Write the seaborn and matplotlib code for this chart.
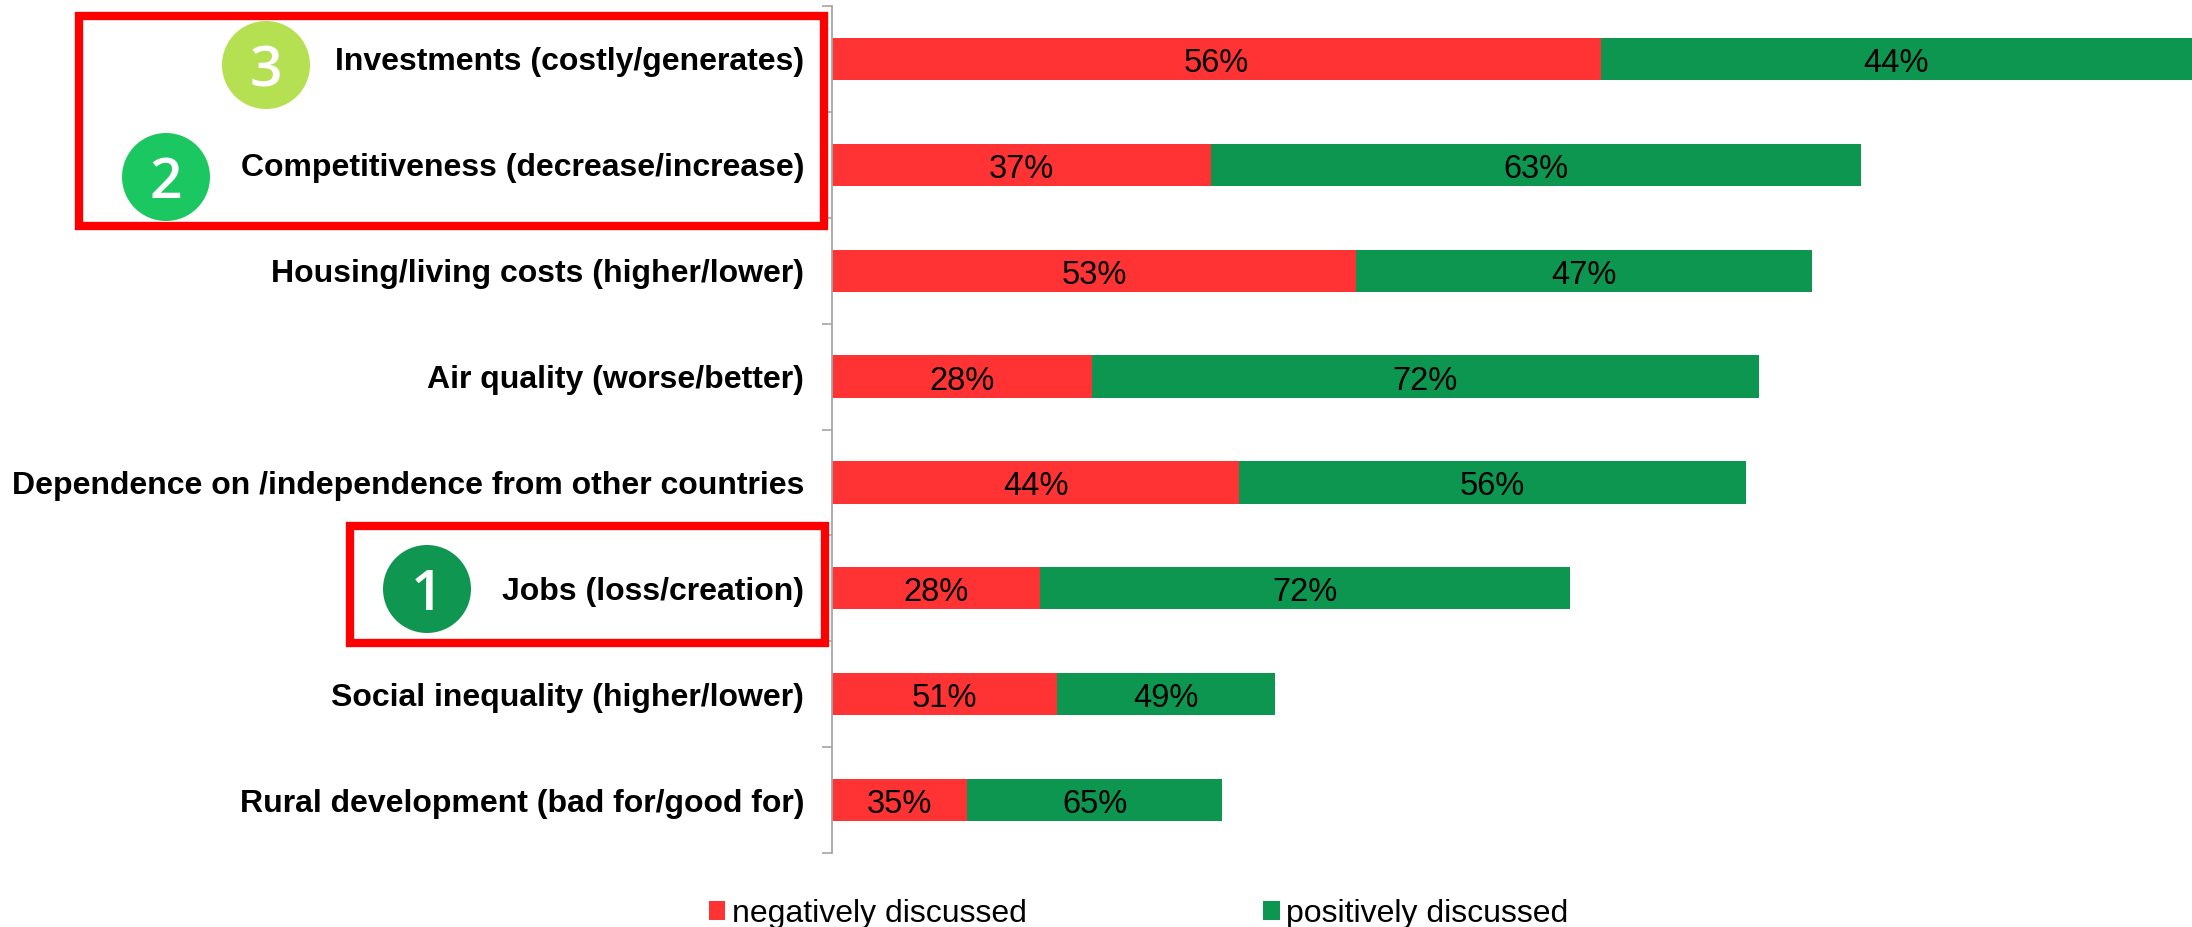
import pandas as pd
import matplotlib.pyplot as plt
import seaborn as sns
from matplotlib.patches import Ellipse, Rectangle

categories = [
    "Investments (costly/generates)",
    "Competitiveness (decrease/increase)",
    "Housing/living costs (higher/lower)",
    "Air quality (worse/better)",
    "Dependence on /independence from other countries",
    "Jobs (loss/creation)",
    "Social inequality (higher/lower)",
    "Rural development (bad for/good for)",
]
# bar lengths (no value axis in the original)
negative = [769, 379, 524, 260, 407, 208, 225, 135]
positive = [591, 650, 456, 667, 507, 530, 218, 255]
negative_pct = ["56%", "37%", "53%", "28%", "44%", "28%", "51%", "35%"]
positive_pct = ["44%", "63%", "47%", "72%", "56%", "72%", "49%", "65%"]

RED = "#FF3333"
GREEN = "#0C9650"
GREY = "#A6A6A6"

sns.set_theme(style="white")
plt.rcParams["font.family"] = ["Liberation Sans", "DejaVu Sans"]

df = pd.DataFrame({"kategoria": categories, "neg": negative, "pos": positive})
df["suma"] = df["neg"] + df["pos"]

fig = plt.figure(figsize=(21.92, 9.27), dpi=100)
ax = fig.add_axes([832 / 2192, 1 - 853 / 927, 1360 / 2192, 847 / 927])

# stacked look: totals in green, negative part drawn over them
sns.barplot(data=df, y="kategoria", x="suma", color=GREEN, width=0.4, saturation=1,
            linewidth=0, label="positively discussed", legend=False, ax=ax)
sns.barplot(data=df, y="kategoria", x="neg", color=RED, width=0.4, saturation=1,
            linewidth=0, label="negatively discussed", legend=False, ax=ax)

ax.set_xlim(0, 1360)
ax.set_ylim(7.5, -0.5)
ax.set_xlabel("")
ax.set_ylabel("")
ax.set_xticks([])
sns.despine(ax=ax, top=True, right=True, bottom=True)
ax.spines["left"].set_color(GREY)
ax.spines["left"].set_linewidth(1.3)

ax.set_yticks([i - 0.5 for i in range(9)], minor=True)
ax.tick_params(axis="y", which="minor", length=7.5, width=1.2, color=GREY, left=True)
ax.tick_params(axis="y", which="major", length=0, pad=20)
for lab in ax.get_yticklabels():
    lab.set_fontsize(23)
    lab.set_fontweight("bold")
    lab.set_color("black")

for i in range(len(df)):
    n, s = df["neg"][i], df["suma"][i]
    ax.text(n / 2, i + 0.01, negative_pct[i], ha="center", va="center_baseline", fontsize=23.5, color="black")
    ax.text((n + s) / 2, i + 0.01, positive_pct[i], ha="center", va="center_baseline", fontsize=23.5, color="black")

handles, labels = ax.get_legend_handles_labels()
if ax.get_legend():
    ax.get_legend().remove()
fig.legend(handles[::-1], labels[::-1], ncols=2, frameon=False, fontsize=23,
           loc="lower left", bbox_to_anchor=(680 / 2192, -0.033), handlelength=0.52,
           handleheight=0.52, handletextpad=0.2, columnspacing=7.4, labelcolor="black")

# overlay in pixel coordinates for the red boxes and numbered circles
over = fig.add_axes([0, 0, 1, 1], facecolor="none")
over.set_xlim(0, 2192)
over.set_ylim(927, 0)
over.axis("off")
for x0, y0, x1, y1 in [(79, 16, 824, 226), (350, 526, 825, 643)]:
    over.add_patch(Rectangle((x0, y0), x1 - x0, y1 - y0, fill=False, edgecolor="#FF0000",
                             linewidth=6, joinstyle="miter"))
for num, cx, cy, col in [("3", 266, 65, "#B5E051"), ("2", 166, 177, "#1BC760"), ("1", 427, 589, "#0F9650")]:
    over.add_patch(Ellipse((cx, cy), 88, 88, facecolor=col, edgecolor="none"))
    over.text(cx, cy, num, ha="center", va="center_baseline", fontsize=41, color="white",
              family="Open Sans", fontweight="semibold")

fig.savefig("out.png", dpi=100)
